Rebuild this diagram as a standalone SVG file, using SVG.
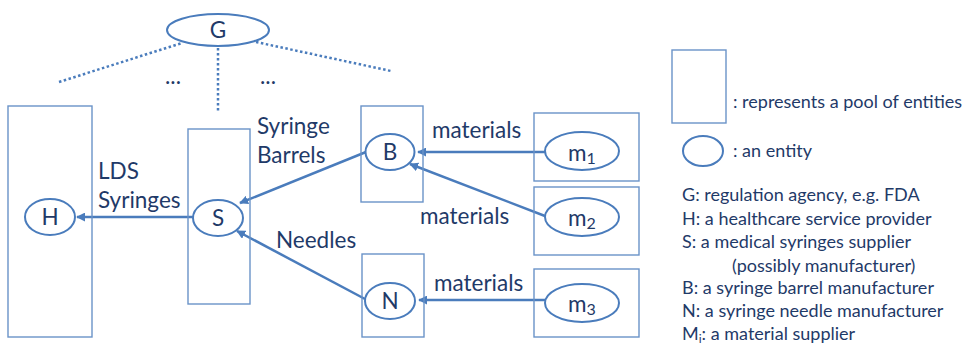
<svg xmlns="http://www.w3.org/2000/svg" width="967" height="348" viewBox="0 0 967 348">
<defs>
<style>
.pool{fill:none;stroke:#6a93c8;stroke-width:1.4}
.ent{fill:#fff;stroke:#4a7cbc;stroke-width:2}
.lbl{font-family:Lato,"Liberation Sans",sans-serif;fill:#1f3a68}
.big{font-size:22.5px}
.leg{font-size:18px}
.arr{stroke:#4a7cbc;stroke-width:2.5;fill:none;marker-end:url(#ah)}
.dot{stroke:#4a7cbc;stroke-width:2.5;stroke-dasharray:2.5 2.5;fill:none}
</style>
<marker id="ah" viewBox="0 0 10 10" refX="9" refY="5" markerWidth="3.6" markerHeight="3.6" orient="auto" markerUnits="strokeWidth">
<path d="M0,0 L10,5 L0,10 z" fill="#4a7cbc"/>
</marker>
</defs>
<rect width="967" height="348" fill="#fff"/>
<g id="connectors">
<line class="dot" x1="59" y1="82" x2="182" y2="43"/>
<line class="dot" x1="256" y1="42" x2="391" y2="71"/>
<line class="dot" x1="218" y1="48" x2="218" y2="112"/>
<line class="arr" x1="193" y1="217" x2="77" y2="217"/>
<line class="arr" x1="366" y1="152" x2="240" y2="203"/>
<line class="arr" x1="365" y1="299" x2="237" y2="231"/>
<line class="arr" x1="545" y1="152" x2="418" y2="152"/>
<line class="arr" x1="545" y1="216" x2="410" y2="164"/>
<line class="arr" x1="545" y1="300" x2="419" y2="300"/>
</g>
<g id="pools">
<rect class="pool" x="8" y="106" width="84" height="231"/>
<rect class="pool" x="188" y="129" width="62" height="175"/>
<rect class="pool" x="361" y="106" width="62" height="96"/>
<rect class="pool" x="362" y="254" width="62" height="83"/>
<rect class="pool" x="534" y="113" width="105" height="68"/>
<rect class="pool" x="534" y="187" width="105" height="68"/>
<rect class="pool" x="534" y="269" width="105" height="68"/>
</g>
<g id="G"><ellipse class="ent" cx="218" cy="30" rx="51" ry="16"/><text class="lbl big" x="218" y="38" text-anchor="middle">G</text></g>
<g id="H"><ellipse class="ent" cx="50" cy="217" rx="25" ry="18"/><text class="lbl big" x="50" y="225" text-anchor="middle">H</text></g>
<g id="S"><ellipse class="ent" cx="218" cy="218" rx="25" ry="18"/><text class="lbl big" x="218" y="226" text-anchor="middle">S</text></g>
<g id="B"><ellipse class="ent" cx="390" cy="152" rx="24.5" ry="18"/><text class="lbl big" x="390" y="160" text-anchor="middle">B</text></g>
<g id="N"><ellipse class="ent" cx="390" cy="301" rx="25" ry="18"/><text class="lbl big" x="390" y="309" text-anchor="middle">N</text></g>
<g id="m1"><ellipse class="ent" cx="582" cy="151" rx="37" ry="19"/><text class="lbl big" x="582" y="161" text-anchor="middle">m<tspan font-size="16" dy="3">1</tspan></text></g>
<g id="m2"><ellipse class="ent" cx="582" cy="217" rx="37" ry="19"/><text class="lbl big" x="582" y="226" text-anchor="middle">m<tspan font-size="16" dy="3">2</tspan></text></g>
<g id="m3"><ellipse class="ent" cx="582" cy="303" rx="37" ry="19"/><text class="lbl big" x="582" y="312" text-anchor="middle">m<tspan font-size="16" dy="3">3</tspan></text></g>
<g id="labels">
<text class="lbl big" x="173" y="84" text-anchor="middle">...</text>
<text class="lbl big" x="268" y="84" text-anchor="middle">...</text>
<text class="lbl big" x="98" y="179">LDS</text>
<text class="lbl big" x="98" y="208">Syringes</text>
<text class="lbl big" x="257" y="134">Syringe</text>
<text class="lbl big" x="257" y="163">Barrels</text>
<text class="lbl big" x="276" y="248">Needles</text>
<text class="lbl big" x="432" y="138">materials</text>
<text class="lbl big" x="420" y="224">materials</text>
<text class="lbl big" x="434" y="291">materials</text>
</g>
<g id="legend">
<rect class="pool" x="672" y="50" width="54" height="73"/>
<text class="lbl leg" x="733" y="108">: represents a pool of entities</text>
<ellipse class="ent" cx="703" cy="151" rx="20" ry="15"/>
<text class="lbl leg" x="733" y="157">: an entity</text>
<text class="lbl leg" x="682" y="201">G: regulation agency, e.g. FDA</text>
<text class="lbl leg" x="682" y="225">H: a healthcare service provider</text>
<text class="lbl leg" x="682" y="248">S: a medical syringes supplier</text>
<text class="lbl leg" x="732" y="272">(possibly manufacturer)</text>
<text class="lbl leg" x="682" y="294">B: a syringe barrel manufacturer</text>
<text class="lbl leg" x="682" y="317">N: a syringe needle manufacturer</text>
<text class="lbl leg" x="682" y="340">M<tspan font-size="12" dy="3">i</tspan><tspan dy="-3">: a material supplier</tspan></text>
</g>
</svg>
